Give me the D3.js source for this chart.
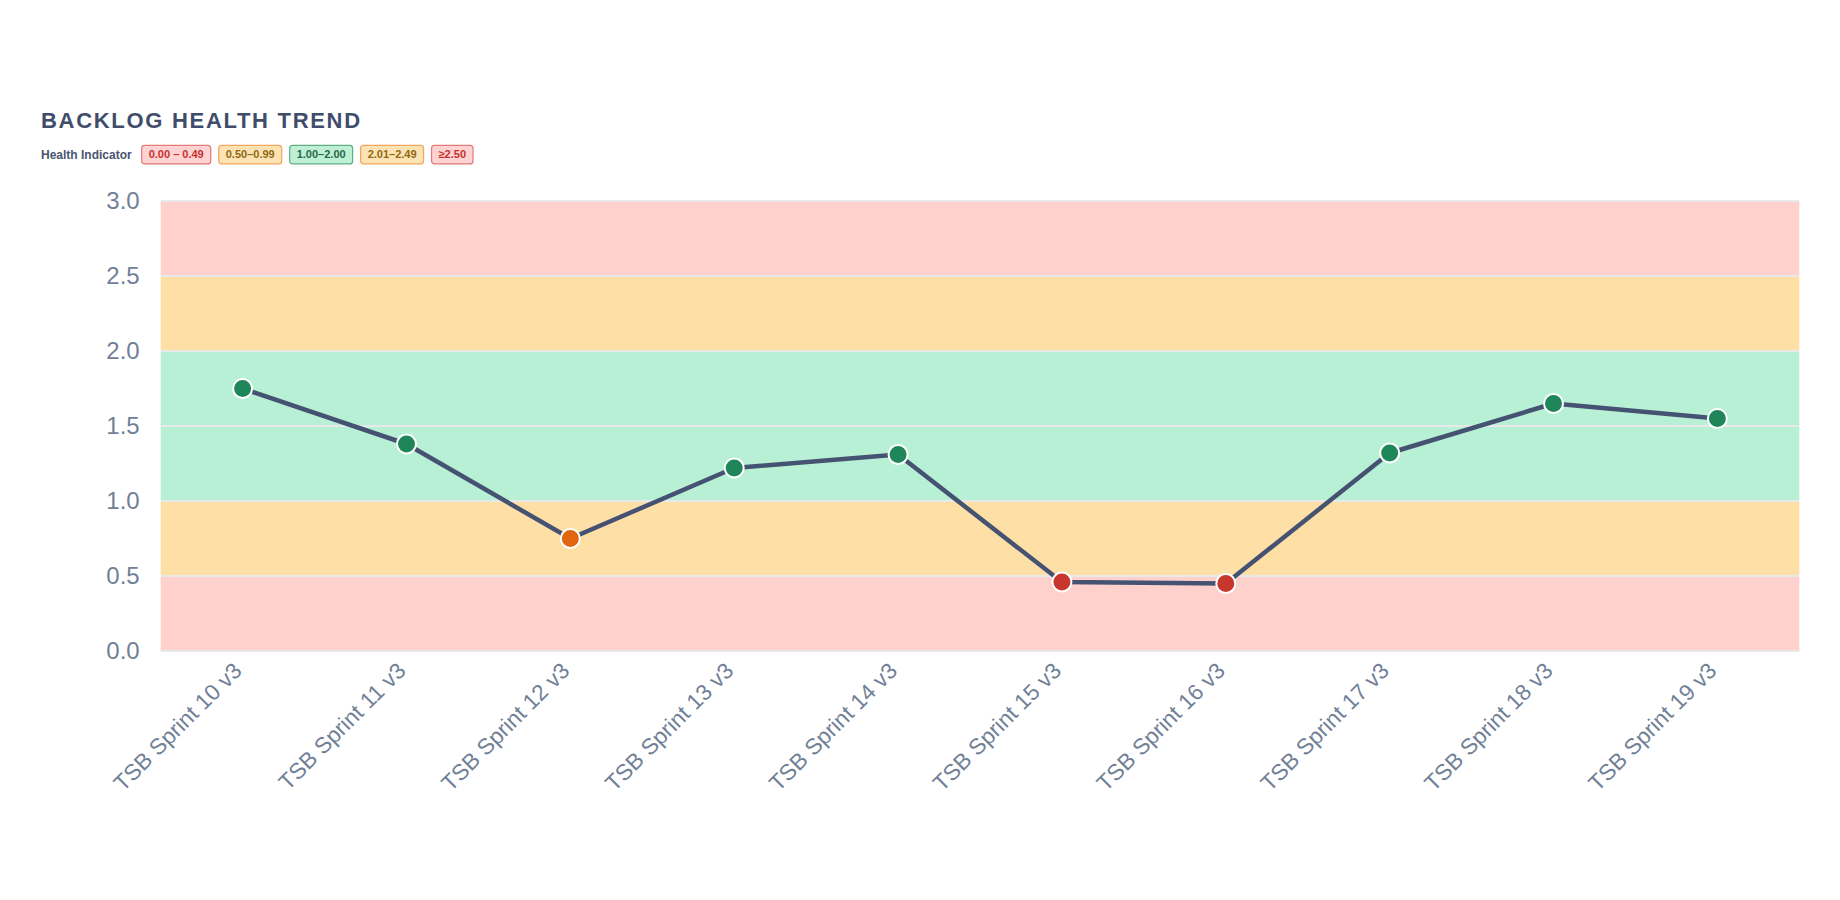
<!DOCTYPE html>
<html lang="en">
<head>
<meta charset="utf-8" />
<script src="https://cdn.jsdelivr.net/npm/d3@7"></script>
<style>
  html, body { margin: 0; padding: 0; background: #fff; }
  svg { display: block; font-family: "Liberation Sans", Arial, sans-serif; }
</style>
</head>
<body>
<div id="chart"></div>
<script>
// sprint names along the x axis
const sprints = [
  "TSB Sprint 10 v3", "TSB Sprint 11 v3", "TSB Sprint 12 v3", "TSB Sprint 13 v3",
  "TSB Sprint 14 v3", "TSB Sprint 15 v3", "TSB Sprint 16 v3", "TSB Sprint 17 v3",
  "TSB Sprint 18 v3", "TSB Sprint 19 v3"
];
// backlog health ratio per sprint
const healthValues = [1.75, 1.38, 0.75, 1.22, 1.31, 0.46, 0.45, 1.32, 1.65, 1.55];

const yTicks = [0, 0.5, 1.0, 1.5, 2.0, 2.5, 3.0];

// background zones: [from, to, colour]
const bandStarts = [0, 0.5, 1.0, 2.0, 2.5];
const bandEnds   = [0.5, 1.0, 2.0, 2.5, 3.0];
const bandFills  = ["#fed1cc", "#fee0a7", "#b8f0d6", "#fee0a7", "#fed1cc"];

// legend badges
const legendLabels  = ["0.00 \u2013 0.49", "0.50\u20130.99", "1.00\u20132.00", "2.01\u20132.49", "\u22652.50"];
const legendFills   = ["#fed3d1", "#fde3b4", "#bff0d6", "#fde3b4", "#fed3d1"];
const legendStrokes = ["#e07b78", "#f1a65a", "#5fae86", "#f1a65a", "#e07b78"];
const legendText    = ["#c53030", "#8c6a12", "#276749", "#8c6a12", "#c53030"];

const W = 1840, H = 900;
const margin = {left: 160.7, right: 40.7, top: 201, bottom: 249};

function dotColor(v) {
  if (v < 0.5) return "#c8372d";
  if (v < 1.0) return "#e0670f";
  if (v <= 2.0) return "#1f8659";
  if (v < 2.5) return "#e0670f";
  return "#c8372d";
}

const svg = d3.select("#chart").append("svg")
  .attr("width", W).attr("height", H);

// title
svg.append("text")
  .attr("x", 41).attr("y", 128)
  .attr("fill", "#3f4d6b")
  .attr("font-size", 22).attr("font-weight", "bold")
  .attr("letter-spacing", "1.7px")
  .text("BACKLOG HEALTH TREND");

// legend
const legend = svg.append("g").attr("transform", "translate(41,154.5)");
const legTitle = legend.append("text")
  .attr("x", 0).attr("y", 0)
  .attr("dy", "0.35em")
  .attr("fill", "#4a5570")
  .attr("font-size", 12).attr("font-weight", "bold")
  .text("Health Indicator");
let lx = legTitle.node().getComputedTextLength() + 9.5;
legendLabels.forEach((lab, i) => {
  const g = legend.append("g").attr("transform", `translate(${lx},0)`);
  const rect = g.append("rect");
  const t = g.append("text")
    .attr("x", 7.5).attr("y", 0).attr("dy", "0.35em")
    .attr("fill", legendText[i])
    .attr("font-size", 11).attr("font-weight", "bold")
    .text(lab);
  const w = t.node().getComputedTextLength() + 15;
  rect.attr("x", 0.5).attr("y", -9.2).attr("width", w - 1).attr("height", 18.6)
    .attr("rx", 3)
    .attr("fill", legendFills[i])
    .attr("stroke", legendStrokes[i]).attr("stroke-width", 1.2);
  lx += w + 7;
});

const x = d3.scalePoint()
  .domain(sprints)
  .range([margin.left, W - margin.right])
  .padding(0.5);

const y = d3.scaleLinear()
  .domain([0, 3])
  .range([H - margin.bottom, margin.top]);

// zones
svg.append("g").selectAll("rect")
  .data(bandStarts)
  .join("rect")
  .attr("x", margin.left)
  .attr("width", W - margin.right - margin.left)
  .attr("y", (d, i) => y(bandEnds[i]))
  .attr("height", (d, i) => y(d) - y(bandEnds[i]))
  .attr("fill", (d, i) => bandFills[i]);

// grid lines
svg.append("g").selectAll("line")
  .data(yTicks)
  .join("line")
  .attr("x1", margin.left).attr("x2", W - margin.right)
  .attr("y1", d => y(d)).attr("y2", d => y(d))
  .attr("stroke", "#e9e9ec").attr("stroke-width", 2);

// y axis
const yAxis = svg.append("g")
  .attr("transform", `translate(${margin.left},0)`)
  .call(d3.axisLeft(y).tickValues(yTicks).tickFormat(d3.format(".1f")).tickSize(0).tickPadding(21));
yAxis.select(".domain").remove();
yAxis.selectAll("text")
  .attr("fill", "#718096")
  .attr("font-size", 24)
  .attr("font-family", "'Liberation Sans', Arial, sans-serif");

// x axis labels
const xAxis = svg.append("g")
  .attr("transform", `translate(0,${H - margin.bottom})`)
  .call(d3.axisBottom(x).tickSize(0).tickPadding(0));
xAxis.select(".domain").remove();
xAxis.selectAll("text")
  .attr("fill", "#718096")
  .attr("font-size", 22.5)
  .attr("font-family", "'Liberation Sans', Arial, sans-serif")
  .attr("text-anchor", "end")
  .attr("y", 0).attr("dy", "0.32em")
  .attr("transform", "translate(-5,16) rotate(-45)");

// trend line
const line = d3.line()
  .x((d, i) => x(sprints[i]))
  .y(d => y(d));
svg.append("path")
  .datum(healthValues)
  .attr("d", line)
  .attr("fill", "none")
  .attr("stroke", "#465271")
  .attr("stroke-width", 4.5)
  .attr("stroke-linejoin", "round");

// points
svg.append("g").selectAll("circle")
  .data(healthValues)
  .join("circle")
  .attr("cx", (d, i) => x(sprints[i]))
  .attr("cy", d => y(d))
  .attr("r", 9.5)
  .attr("fill", d => dotColor(d))
  .attr("stroke", "#fff")
  .attr("stroke-width", 2);
</script>
</body>
</html>
